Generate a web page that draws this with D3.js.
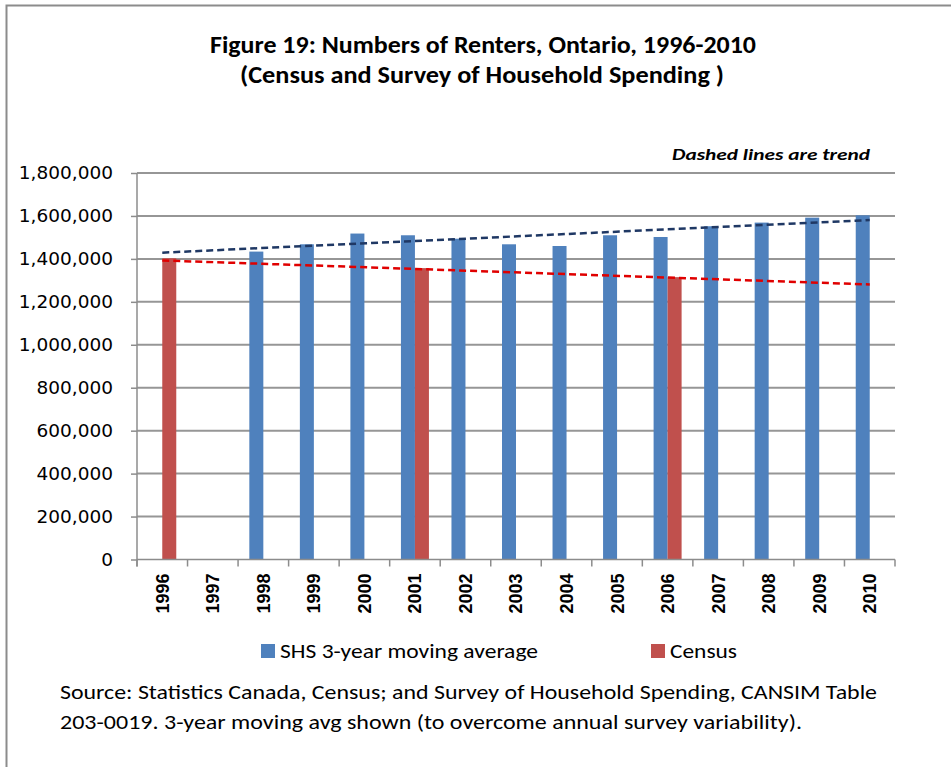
<!DOCTYPE html>
<html>
<head>
<meta charset="utf-8">
<script src="https://cdn.jsdelivr.net/npm/d3@7"></script>
<style>
  body { margin: 0; background: #fff; }
  svg text { fill: #000; }
</style>
</head>
<body>
<svg width="951" height="767"></svg>
<script>
const svg = d3.select('svg');

// data
const years = ['1996', '1997', '1998', '1999', '2000', '2001', '2002', '2003',
  '2004', '2005', '2006', '2007', '2008', '2009', '2010'];
const shs = [null, null, 1434000, 1468000, 1518000, 1510000, 1494000, 1468000,
  1460000, 1510000, 1502000, 1552000, 1569000, 1592000, 1603000];
const census = [1403000, null, null, null, null, 1357000, null, null,
  null, null, 1315000, null, null, null, null];
const trendShs = [1429000, 1581000];     // 1996 -> 2010
const trendCensus = [1393000, 1281000];  // 1996 -> 2010
const yTicks = [0, 200000, 400000, 600000, 800000, 1000000, 1200000, 1400000, 1600000, 1800000];

const blue = '#4f81bd';
const red = '#c0504d';
const font = "Carlito, Calibri, 'Liberation Sans Narrow', 'Liberation Sans', sans-serif";

const plotLeft = 137, plotRight = 895, plotTop = 173, plotBottom = 559.5;

const x = d3.scaleBand().domain(years).range([plotLeft, plotRight]).padding(0);
const bw = x.bandwidth();
const x1 = d3.scaleBand().domain(['shs', 'census'])
  .range([bw / 2 - 14, bw / 2 + 14]).padding(0);
const y = d3.scaleLinear().domain([0, 1800000]).range([plotBottom, plotTop]);

// outer frame
svg.append('rect')
  .attr('x', 6.5).attr('y', 5.5)
  .attr('width', 960).attr('height', 800)
  .attr('fill', 'none').attr('stroke', '#8c8c8c').attr('stroke-width', 2);

// title
const title = svg.append('g').attr('font-family', font).attr('font-weight', 'bold')
  .attr('font-size', 24).attr('text-anchor', 'middle');
title.append('text').attr('x', 483).attr('y', 53)
  .attr('textLength', 546).attr('lengthAdjust', 'spacingAndGlyphs')
  .text('Figure 19: Numbers of Renters, Ontario, 1996-2010');
title.append('text').attr('x', 482).attr('y', 83)
  .attr('textLength', 484).attr('lengthAdjust', 'spacingAndGlyphs')
  .text('(Census and Survey of Household Spending )');

svg.append('text')
  .attr('x', 870).attr('y', 160)
  .attr('text-anchor', 'end')
  .attr('font-family', font).attr('font-weight', 'bold').attr('font-style', 'italic')
  .attr('font-size', 17)
  .attr('textLength', 198).attr('lengthAdjust', 'spacingAndGlyphs')
  .text('Dashed lines are  trend');

// gridlines
svg.append('g')
  .selectAll('line')
  .data(yTicks.filter(d => d > 0))
  .enter().append('line')
  .attr('x1', plotLeft).attr('x2', plotRight)
  .attr('y1', d => y(d)).attr('y2', d => y(d))
  .attr('stroke', '#969696').attr('stroke-width', 2);

// y axis
const yAxis = svg.append('g')
  .attr('transform', `translate(${plotLeft},0)`)
  .call(d3.axisLeft(y).tickValues(yTicks).tickSize(6).tickPadding(18)
    .tickFormat(d3.format(',')));
yAxis.select('.domain').attr('stroke', '#8c8c8c').attr('stroke-width', 1.5)
  .attr('d', `M0,${plotTop}V${plotBottom + 7}`);
yAxis.selectAll('.tick line').attr('stroke', '#8c8c8c').attr('stroke-width', 1.5);
yAxis.selectAll('.tick text')
  .attr('font-family', "'DejaVu Sans', sans-serif")
  .attr('font-size', 18.5)
  .attr('fill', '#000');

// bars
const bars = svg.append('g');
bars.selectAll('rect.shs')
  .data(years.map((yr, i) => ({ yr, v: shs[i] })).filter(d => d.v != null))
  .enter().append('rect')
  .attr('class', 'shs')
  .attr('x', d => x(d.yr) + x1('shs'))
  .attr('width', x1.bandwidth())
  .attr('y', d => y(d.v))
  .attr('height', d => y(0) - y(d.v))
  .attr('fill', blue);
bars.selectAll('rect.census')
  .data(years.map((yr, i) => ({ yr, v: census[i] })).filter(d => d.v != null))
  .enter().append('rect')
  .attr('class', 'census')
  .attr('x', d => x(d.yr) + x1('census'))
  .attr('width', x1.bandwidth())
  .attr('y', d => y(d.v))
  .attr('height', d => y(0) - y(d.v))
  .attr('fill', red);

// x axis
const xAxis = svg.append('g')
  .attr('transform', `translate(0,${plotBottom})`)
  .call(d3.axisBottom(x).tickSize(0).tickPadding(0));
xAxis.select('.domain').attr('stroke', '#8c8c8c').attr('stroke-width', 1.5)
  .attr('d', `M${plotLeft},0H${plotRight}`);
xAxis.selectAll('.tick text')
  .attr('font-family', "'Liberation Sans', Arial, sans-serif")
  .attr('font-weight', 'bold')
  .attr('font-size', 18)
  .attr('fill', '#000')
  .attr('text-anchor', 'end')
  .attr('dy', '0.36em')
  .attr('transform', 'translate(0,14) rotate(-90)');
// category boundary ticks
xAxis.append('g')
  .selectAll('line')
  .data(years.concat(['end']))
  .enter().append('line')
  .attr('x1', (d, i) => plotLeft + i * bw).attr('x2', (d, i) => plotLeft + i * bw)
  .attr('y1', 0).attr('y2', 7)
  .attr('stroke', '#8c8c8c').attr('stroke-width', 1.5);

// trend lines
const first = years[0], last = years[years.length - 1];
const trends = [
  { v: trendShs, color: '#1f3864' },
  { v: trendCensus, color: '#e00000' },
];
svg.append('g')
  .selectAll('line')
  .data(trends)
  .enter().append('line')
  .attr('x1', x(first) + bw / 2).attr('x2', x(last) + bw / 2)
  .attr('y1', d => y(d.v[0])).attr('y2', d => y(d.v[1]))
  .attr('stroke', d => d.color)
  .attr('stroke-width', 2.5)
  .attr('stroke-dasharray', '7,4');

// legend
const legend = svg.append('g').attr('font-family', font).attr('font-size', 21);
const legendItems = [
  { label: 'SHS 3-year moving average', color: blue, x: 261, w: 258 },
  { label: 'Census', color: red, x: 651, w: 67 },
];
const li = legend.selectAll('g').data(legendItems).enter().append('g')
  .attr('transform', d => `translate(${d.x},644)`);
li.append('rect').attr('width', 14).attr('height', 14).attr('fill', d => d.color);
li.append('text').attr('x', 19).attr('y', 14)
  .attr('textLength', d => d.w).attr('lengthAdjust', 'spacingAndGlyphs')
  .text(d => d.label);

// source note
const note = svg.append('g').attr('font-family', font).attr('font-size', 21);
note.append('text').attr('x', 60).attr('y', 699)
  .attr('textLength', 817).attr('lengthAdjust', 'spacingAndGlyphs')
  .text('Source: Statistics Canada, Census; and  Survey of Household Spending, CANSIM Table');
note.append('text').attr('x', 60).attr('y', 729)
  .attr('textLength', 742).attr('lengthAdjust', 'spacingAndGlyphs')
  .text('203-0019.  3-year moving avg shown (to overcome annual  survey variability).');
</script>
</body>
</html>
